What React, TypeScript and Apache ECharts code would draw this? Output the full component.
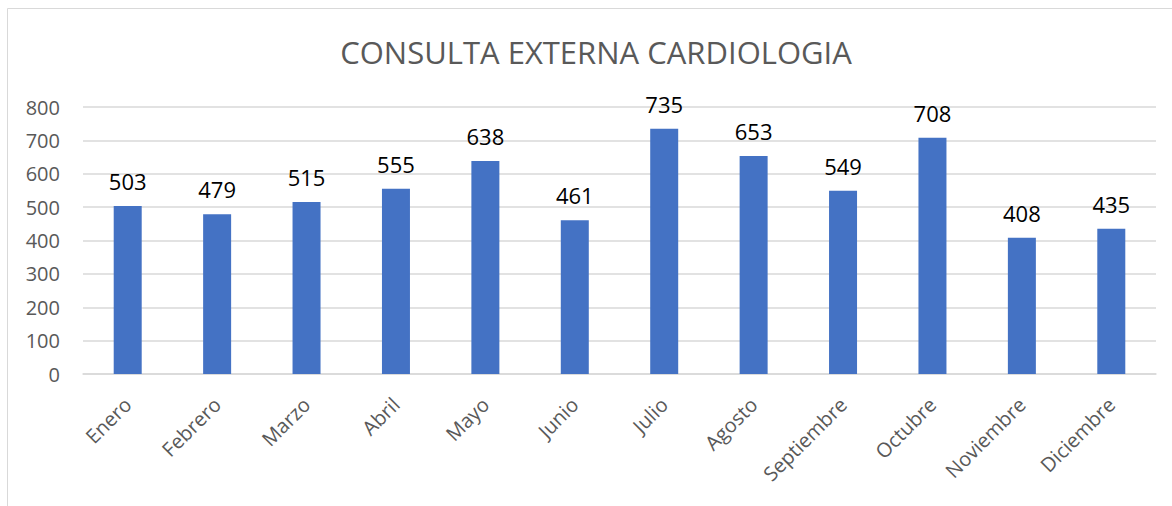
import React, { useEffect, useRef } from "react";
import * as echarts from "echarts";

const titleText = "CONSULTA EXTERNA CARDIOLOGIA";
const months = [
  "Enero", "Febrero", "Marzo", "Abril", "Mayo", "Junio",
  "Julio", "Agosto", "Septiembre", "Octubre", "Noviembre", "Diciembre",
];
const consultas = [503, 479, 515, 555, 638, 461, 735, 653, 549, 708, 408, 435];
const yMin = 0;
const yMax = 800;
const yStep = 100;

const FONT = "'Open Sans', 'Noto Sans', sans-serif";

export default function App() {
  const ref = useRef<HTMLDivElement>(null);
  useEffect(() => {
    document.body.style.margin = "0";
    if (!ref.current) return;
    const chart = echarts.init(ref.current, null, { renderer: "svg" });
    chart.setOption({
      animation: false,
      backgroundColor: "#ffffff",
      textStyle: { fontFamily: FONT },
      grid: { left: 83, right: 16, top: 107, bottom: 132, containLabel: false },
      graphic: [
        {
          type: "rect",
          shape: { x: 7.5, y: 8.5, width: 1300, height: 700 },
          style: { fill: "none", stroke: "#d9d9d9", lineWidth: 1 },
          silent: true,
        },
        {
          type: "text",
          x: 596,
          y: 52,
          style: {
            text: titleText,
            fontFamily: FONT,
            fontSize: 31,
            fill: "#595959",
            textAlign: "center",
            textVerticalAlign: "middle",
          },
        },
      ],
      xAxis: {
        type: "category",
        data: months,
        axisLine: { show: true, lineStyle: { color: "#d9d9d9", width: 1.5 } },
        axisTick: { show: false },
        axisLabel: {
          rotate: 45,
          interval: 0,
          margin: 27,
          color: "#595959",
          fontSize: 20,
          fontFamily: FONT,
        },
      },
      yAxis: {
        type: "value",
        min: yMin,
        max: yMax,
        interval: yStep,
        axisLine: { show: false },
        axisTick: { show: false },
        splitLine: { lineStyle: { color: "#d9d9d9", width: 1.5 } },
        axisLabel: {
          color: "#595959",
          fontSize: 20,
          margin: 23,
          fontFamily: FONT,
        },
      },
      series: [
        {
          type: "bar",
          data: consultas,
          barWidth: 28,
          itemStyle: { color: "#4472C4" },
          label: {
            show: true,
            position: "top",
            distance: 14,
            color: "#000000",
            fontSize: 22,
            fontFamily: FONT,
          },
        },
      ],
    });
    return () => chart.dispose();
  }, []);
  return <div ref={ref} style={{ width: 1172, height: 506 }} />;
}
